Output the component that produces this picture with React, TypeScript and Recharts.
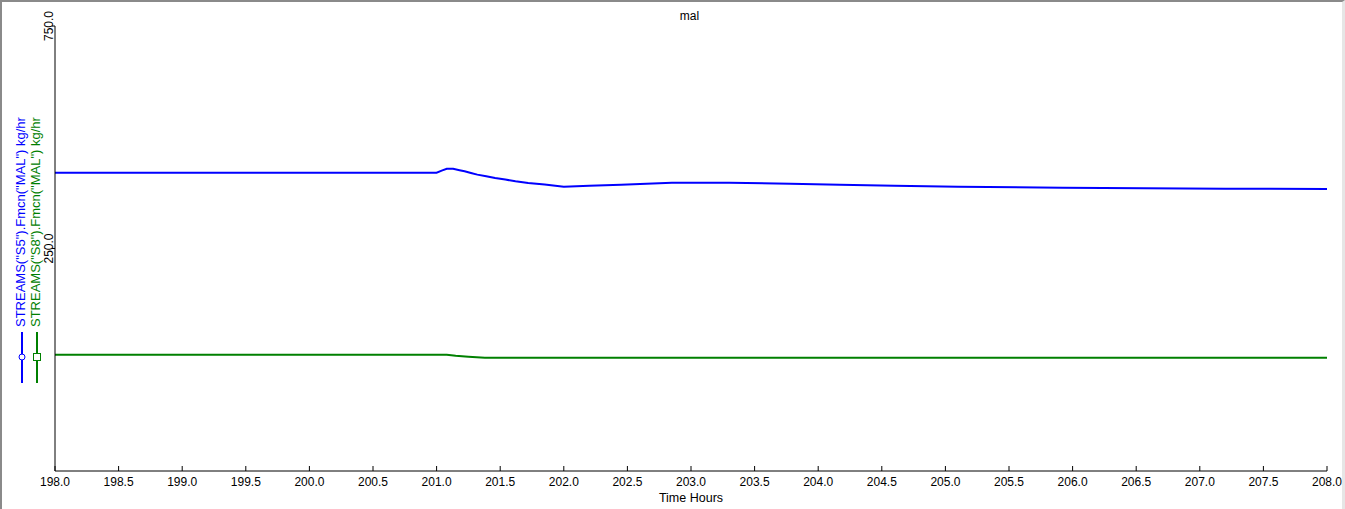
import { Line, LineChart, XAxis, YAxis } from 'recharts'

const FONT = '"Liberation Sans", Arial, sans-serif'

// Time axis (hours) and tick labels
const X_TICKS = [198, 198.5, 199, 199.5, 200, 200.5, 201, 201.5, 202, 202.5, 203, 203.5, 204, 204.5, 205, 205.5, 206, 206.5, 207, 207.5, 208]
const Y_TICKS = [250, 750]

// STREAMS("S5").Fmcn("MAL") kg/hr
const s5Hours = [198.0, 201.0, 201.04, 201.08, 201.13, 201.18, 201.22, 201.27, 201.32, 201.39, 201.46, 201.54, 201.62, 201.72, 201.85, 202.0, 202.2, 202.45, 202.65, 202.85, 203.3, 203.78, 204.17, 204.6, 205.1, 205.92, 207.2, 208.0]
const s5Values = [420.4, 420.4, 425, 429, 429, 426, 423.5, 419.8, 416, 412.3, 408.6, 404.9, 401, 397.4, 393.6, 389, 391, 393.5, 395.5, 397.5, 397.9, 395.6, 393.4, 391.1, 388.9, 386.7, 384.4, 383.8]

// STREAMS("S8").Fmcn("MAL") kg/hr
const s8Hours = [198.0, 201.08, 201.15, 201.25, 201.38, 208.0]
const s8Values = [11.4, 11.4, 9.2, 6.9, 4.7, 4.7]

const SERIES = [
  { key: 's5', name: 'STREAMS("S5").Fmcn("MAL") kg/hr', color: '#0000ff', marker: 'circle', hours: s5Hours, values: s5Values },
  { key: 's8', name: 'STREAMS("S8").Fmcn("MAL") kg/hr', color: '#008000', marker: 'square', hours: s8Hours, values: s8Values },
]

const XTick = ({ x, y, payload }: any) => (
  <g>
    <line x1={x} x2={x} y1={y} y2={y - 5} stroke="#000" />
    <text x={x} y={y + 15} textAnchor="middle" fontSize={12} fontFamily={FONT} fill="#000">
      {Number(payload.value).toFixed(1)}
    </text>
  </g>
)

const YTick = ({ x, y, payload }: any) => (
  <g>
    <line x1={x} x2={x + 3} y1={y} y2={y} stroke="#000" />
    <text x={x + 1} y={y} transform={`rotate(-90, ${x + 1}, ${y})`} textAnchor="middle" fontSize={12} fontFamily={FONT} fill="#000">
      {Number(payload.value).toFixed(1)}
    </text>
  </g>
)

export default function App() {
  return (
    <div style={{ position: 'absolute', left: 0, top: 0, width: 1345, height: 509, background: '#fff', fontFamily: FONT }}>
      <LineChart width={1345} height={509} margin={{ top: 26, right: 18, bottom: 0, left: 0 }}>
        <XAxis
          type="number"
          dataKey="hour"
          domain={[198, 208]}
          ticks={X_TICKS}
          allowDataOverflow
          stroke="#000"
          height={38}
          tickSize={0}
          tickMargin={0}
          tickLine={false}
          tick={<XTick />}
          interval={0}
          label={{ value: 'Time Hours', position: 'insideBottom', offset: 7, fill: '#000', fontSize: 12.5, fontFamily: FONT }}
        />
        <YAxis
          type="number"
          domain={[-250, 750]}
          ticks={Y_TICKS}
          allowDataOverflow
          stroke="#000"
          width={55}
          tickSize={3}
          tickMargin={0}
          tickLine={false}
          tick={<YTick />}
          interval={0}
        />
        {SERIES.map((s) => (
          <Line
            key={s.key}
            data={s.hours.map((h, i) => ({ hour: h, value: s.values[i] }))}
            dataKey="value"
            name={s.name}
            type="linear"
            stroke={s.color}
            strokeWidth={2}
            dot={false}
            activeDot={false}
            isAnimationActive={false}
          />
        ))}
      </LineChart>
      <svg width={1345} height={509} style={{ position: 'absolute', left: 0, top: 0, pointerEvents: 'none' }}>
        <text x={689.5} y={20} textAnchor="middle" fontSize={12} fontFamily={FONT} fill="#000">mal</text>
        {SERIES.map((s, i) => {
          const cx = 22 + i * 15
          return (
            <g key={s.key}>
              <line x1={cx} x2={cx} y1={332} y2={383} stroke={s.color} strokeWidth={2} />
              {s.marker === 'circle' ? (
                <circle cx={cx} cy={357} r={3} fill="#fff" stroke={s.color} strokeWidth={1} />
              ) : (
                <rect x={cx - 3.5} y={353.5} width={7} height={7} fill="#fff" stroke={s.color} strokeWidth={1} />
              )}
              <text
                x={cx + 3}
                y={327}
                transform={`rotate(-90, ${cx + 3}, 327)`}
                textAnchor="start"
                fontSize={13}
                fontFamily={FONT}
                fill={s.color}
              >
                {s.name}
              </text>
            </g>
          )
        })}
      </svg>
      <div
        style={{
          position: 'absolute',
          left: 0,
          top: 0,
          width: 1345,
          height: 509,
          boxSizing: 'border-box',
          borderTop: '2px solid #8a8a8a',
          borderLeft: '2px solid #8a8a8a',
          borderRight: '3px solid #e6e6e6',
          pointerEvents: 'none',
        }}
      />
    </div>
  )
}
